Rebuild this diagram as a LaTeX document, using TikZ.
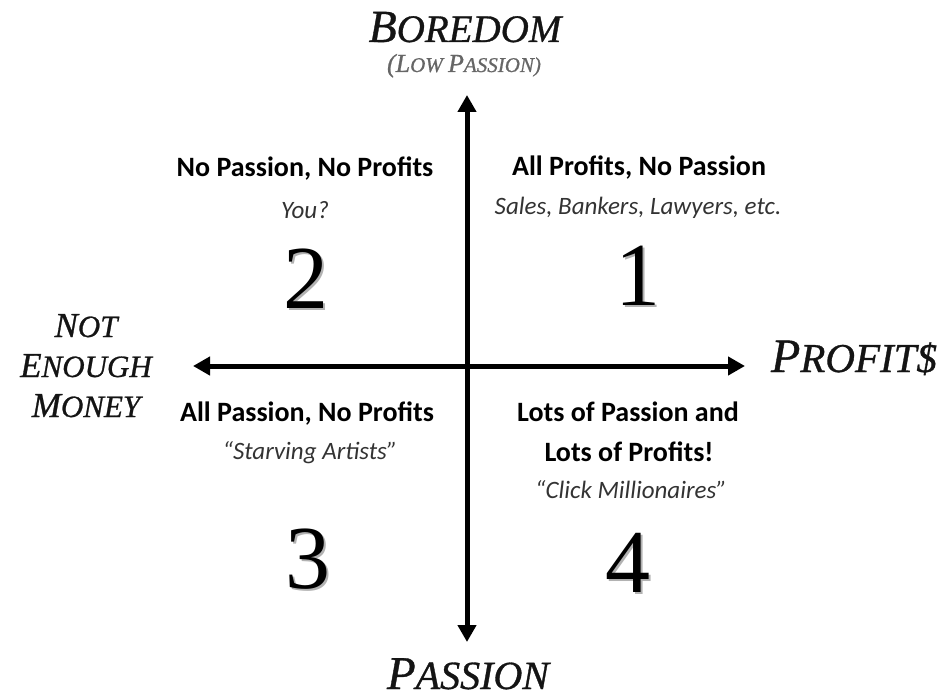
\documentclass[tikz,border=0pt]{standalone}
\usepackage{fontspec}
\usetikzlibrary{arrows.meta}
\newfontfamily\trajanfont{Liberation Serif}
\newfontfamily\trajanlabel[FakeBold=0.8]{Liberation Serif}
\newfontfamily\calibrifont{Carlito}
\newlength{\du}
\setlength{\du}{1bp}
\newcommand{\fs}[1]{\fontsize{#1bp}{40bp}\selectfont}
\newcommand{\shadownum}[1]{\makebox[0pt][l]{\hspace{2bp}\raisebox{-2bp}{\color{numshadow}#1}}#1}
\definecolor{axiscolor}{rgb}{0.080000, 0.080000, 0.080000}
\definecolor{subcolor}{rgb}{0.400000, 0.400000, 0.400000}
\definecolor{notecolor}{rgb}{0.200000, 0.200000, 0.200000}
\definecolor{numshadow}{rgb}{0.700000, 0.700000, 0.700000}
\tikzset{
  axis/.style={line width=5bp, draw=black, {Triangle[length=17bp,width=18bp]}-{Triangle[length=17bp,width=18bp]}},
  axislabel/.style={anchor=base, inner sep=0pt, font=\trajanlabel\itshape\fs{28}, text=axiscolor},
  headline/.style={anchor=base, inner sep=0pt, font=\calibrifont\bfseries\fs{28}, text=black},
  noteline/.style={anchor=base, inner sep=0pt, font=\calibrifont\itshape\fs{25}, text=notecolor},
  quadnum/.style={anchor=base, inner sep=0pt, font=\trajanfont\fs{90}, text=black}
}

\begin{document}
\begin{tikzpicture}
\pgftransformxscale{1.000000}
\pgftransformyscale{-1.000000}
\useasboundingbox (0.000000\du,0.000000\du) rectangle (948.000000\du,695.000000\du);
% axes
\coordinate (top) at (467.000000\du,95.000000\du);
\coordinate (bottom) at (467.000000\du,642.000000\du);
\coordinate (left) at (193.000000\du,366.000000\du);
\coordinate (right) at (745.000000\du,366.000000\du);
\draw[axis] (bottom)--(top);
\draw[axis] (left)--(right);
% axis labels
\node[axislabel] (boredom) at (465.000000\du,42.000000\du){\fs{46}B\fs{39}OREDOM};
\node[axislabel, text=subcolor] (lowpassion) at (464.000000\du,72.000000\du){\fs{26}(L\fs{21}OW \fs{26}P\fs{21}ASSION)};
\node[axislabel, align=center] (money) at (86.000000\du,417.000000\du){\fs{35}N\fs{31}OT\\\fs{35}E\fs{31}NOUGH\\\fs{35}M\fs{31}ONEY};
\node[axislabel] (profits) at (854.000000\du,372.000000\du){\fs{48}P\fs{41}ROFIT\$};
\node[axislabel] (passion) at (468.000000\du,689.000000\du){\fs{47}P\fs{40}ASSION};
% quadrant 1
\node[headline] (q1head) at (639.000000\du,176.000000\du){All Profits, No Passion};
\node[noteline] (q1note) at (638.000000\du,214.000000\du){Sales, Bankers, Lawyers,\ etc.};
\node[quadnum] (q1num) at (638.000000\du,305.000000\du){\shadownum{1}};
% quadrant 2
\node[headline] (q2head) at (305.000000\du,177.000000\du){No Passion, No Profits};
\node[noteline] (q2note) at (305.000000\du,218.000000\du){You?};
\node[quadnum] (q2num) at (306.000000\du,308.000000\du){\shadownum{2}};
% quadrant 3
\node[headline] (q3head) at (307.000000\du,421.000000\du){All Passion, No Profits};
\node[noteline] (q3note) at (310.000000\du,459.000000\du){“Starving Artists”};
\node[quadnum] (q3num) at (308.000000\du,588.000000\du){\shadownum{3}};
% quadrant 4
\node[headline] (q4head) at (628.000000\du,421.000000\du){Lots of Passion and};
\node[headline] (q4head2) at (629.000000\du,461.000000\du){Lots of Profits!};
\node[noteline] (q4note) at (631.000000\du,498.000000\du){“Click Millionaires”};
\node[quadnum] (q4num) at (628.000000\du,592.000000\du){\shadownum{4}};
\end{tikzpicture}
\end{document}
